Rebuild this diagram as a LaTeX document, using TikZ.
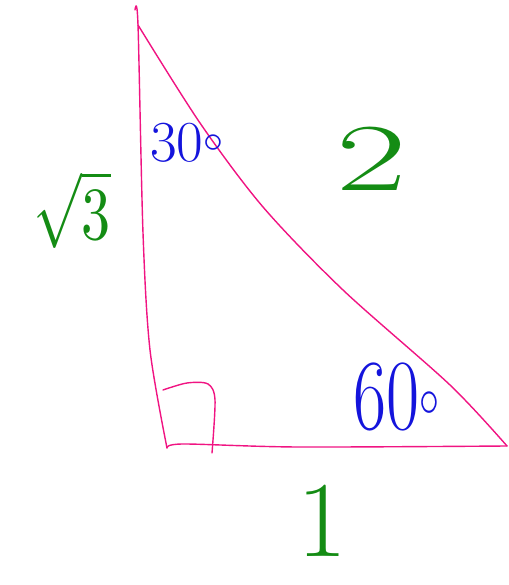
\documentclass[tikz,border=0pt]{standalone}
\usepackage{fontspec}
\usepackage{graphicx}
\definecolor{tripink}{RGB}{240,20,130}
\definecolor{labgreen}{RGB}{20,140,20}
\definecolor{angblue}{RGB}{20,20,220}
\begin{document}
\begin{tikzpicture}[x=1pt,y=1pt,
  side/.style={draw=tripink,line width=1.4pt,line join=round,line cap=round},
  sidelab/.style={text=labgreen,inner sep=0pt},
  anglab/.style={text=angblue,inner sep=0pt}]
\useasboundingbox (0,0) rectangle (508,585);
\coordinate (A0) at (135,575);
\coordinate (A) at (138,560);
\coordinate (B) at (167,137);
\coordinate (C) at (507,139);
% left side
\draw[side] plot[smooth] coordinates {(A0) (A) (143,352) (150,235) (B)};
% bottom side
\draw[side] plot[smooth] coordinates {(B) (183,141) (297,138) (C)};
% hypotenuse
\draw[side] plot[smooth] coordinates {(A) (200,462) (263,378) (343,295) (450,200) (C)};
% right-angle mark
\coordinate (R1) at (163,195);
\coordinate (R3) at (212,132);
\draw[side] plot[smooth] coordinates {(R1) (187,202) (208,201) (215,185) (R3)};
\node[sidelab] (s3) at (72,375) {\scalebox{5.8}[7.5]{$\sqrt{3}$}};
\node[sidelab,font=\fontsize{96}{96}\selectfont] (two) at (372,426) {\scalebox{1.6}[1]{2}};
\node[sidelab,font=\fontsize{108}{108}\selectfont] (one) at (322,64) {1};
\node[anglab,font=\fontsize{58}{58}\selectfont] (a30) at (187,442) {30$^{\scalebox{1.6}{$\circ$}}$};
\node[anglab,font=\fontsize{72}{72}\selectfont] (a60) at (397,188) {\scalebox{1}[1.4]{60$^{\scalebox{1.6}{$\circ$}}$}};
\end{tikzpicture}
\end{document}
